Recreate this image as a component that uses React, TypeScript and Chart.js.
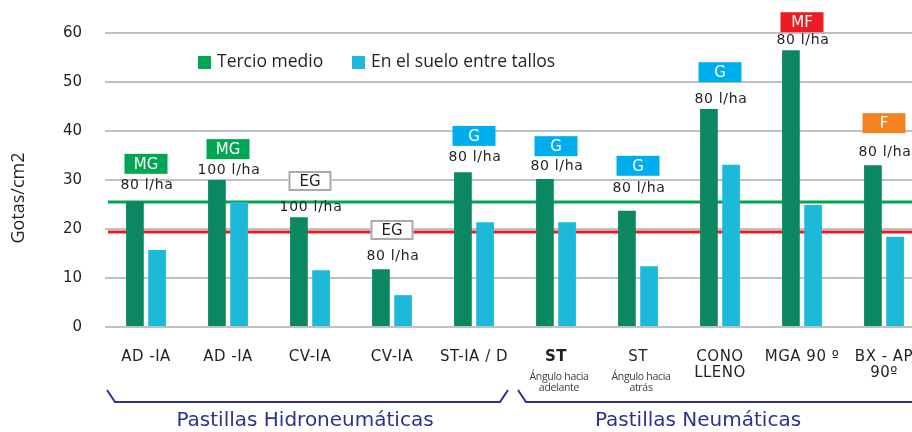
import React, { useEffect, useRef } from "react";
import { Chart, registerables } from "chart.js";

Chart.register(...registerables);

const categories = ["AD -IA", "AD -IA", "CV-IA", "CV-IA", "ST-IA / D", "ST", "ST", "CONO\nLLENO", "MGA 90 º", "BX - AP\n90º"];
const subLabels = ["", "", "", "", "", "Ángulo hacia\nadelante", "Ángulo hacia\natrás", "", "", ""];
const tercioMedio = [25.7, 30.0, 22.4, 11.8, 31.6, 30.2, 23.7, 44.5, 56.5, 33.0];
const sueloEntreTallos = [15.7, 25.5, 11.6, 6.5, 21.4, 21.4, 12.4, 33.1, 24.9, 18.4];
const badgeLabels = ["MG", "MG", "EG", "EG", "G", "G", "G", "G", "MF", "F"];
const badgeLevels = [33.3, 36.3, 29.8, 19.8, 39.0, 36.9, 32.9, 52.0, 62.2, 41.6];
const rateLabels = ["80 l/ha", "100 l/ha", "100 l/ha", "80 l/ha", "80 l/ha", "80 l/ha", "80 l/ha", "80 l/ha", "80 l/ha", "80 l/ha"];
const rateLevels = [29.0, 31.9, 24.5, 14.4, 34.7, 32.7, 28.2, 46.4, 58.5, 35.6];
const thresholdHigh = 25.5;
const thresholdLow = 19.4;
const yMin = 0;
const yMax = 60;
const yStep = 10;
const seriesNames = ["Tercio medio", "En el suelo entre tallos"];
const groupLabels = ["Pastillas Hidroneumáticas", "Pastillas Neumáticas"];
const groupFrom = [0, 5];
const groupTo = [4, 9];
const yTitle = "Gotas/cm2";

const badgeStyles: Record<string, { fill: string; stroke?: string; text: string }> = {
  MG: { fill: "#00a651", text: "#ffffff" },
  G: { fill: "#00aeef", text: "#ffffff" },
  EG: { fill: "#ffffff", stroke: "#a7a9ac", text: "#231f20" },
  MF: { fill: "#ed1c24", text: "#ffffff" },
  F: { fill: "#f58220", text: "#ffffff" },
};

const GOTHAM = '"DejaVu Sans", sans-serif';
const HUMAN = '"Open Sans", sans-serif';
const NAVY = "#2e3192";
const INK = "#231f20";

const overlay = {
  id: "overlay",
  beforeDatasetsDraw(chart: any) {
    const { ctx, chartArea, scales } = chart;
    const y = scales.y;
    ctx.save();
    ctx.lineWidth = 3;
    const lines: [number, string][] = [
      [thresholdHigh, "#00a651"],
      [thresholdLow, "#ed1c24"],
    ];
    lines.forEach(([v, c]) => {
      const py = y.getPixelForValue(v);
      ctx.strokeStyle = c;
      ctx.beginPath();
      ctx.moveTo(chartArea.left + 3, py);
      ctx.lineTo(chart.width, py);
      ctx.stroke();
    });
    ctx.restore();
  },
  afterDatasetsDraw(chart: any) {
    const { ctx, scales } = chart;
    const x = scales.x;
    const y = scales.y;
    const half = (x.getPixelForValue(1) - x.getPixelForValue(0)) / 2;
    ctx.save();

    // badges and rates
    categories.forEach((_, i) => {
      const cx = x.getPixelForValue(i);
      const b = badgeLabels[i];
      const st = badgeStyles[b];
      const by = y.getPixelForValue(badgeLevels[i]);
      const w = 43;
      const h = 20;
      ctx.fillStyle = st.fill;
      ctx.fillRect(cx - w / 2, by - h / 2, w, h);
      if (st.stroke) {
        ctx.strokeStyle = st.stroke;
        ctx.lineWidth = 2;
        ctx.strokeRect(cx - w / 2 + 1, by - h / 2 + 1, w - 2, h - 2);
      }
      ctx.fillStyle = st.text;
      ctx.font = `15px ${GOTHAM}`;
      ctx.textAlign = "center";
      ctx.textBaseline = "middle";
      (ctx as any).letterSpacing = "0px";
      ctx.fillText(b, cx, by + 1);

      const ry = y.getPixelForValue(rateLevels[i]);
      ctx.fillStyle = INK;
      ctx.font = `14px ${GOTHAM}`;
      (ctx as any).letterSpacing = "0.7px";
      ctx.fillText(rateLabels[i], cx + 1, ry);
    });

    // x labels
    categories.forEach((lab, i) => {
      const cx = x.getPixelForValue(i);
      const lines = lab.split("\n");
      ctx.fillStyle = INK;
      ctx.textAlign = "center";
      ctx.textBaseline = "middle";
      (ctx as any).letterSpacing = "0.5px";
      ctx.font = `${i === 5 ? "bold " : ""}15px ${GOTHAM}`;
      lines.forEach((ln, k) => ctx.fillText(ln, cx, 357 + k * 16));
      if (subLabels[i]) {
        ctx.fillStyle = "#3c3c3e";
        ctx.font = `10.5px ${HUMAN}`;
        (ctx as any).letterSpacing = "-0.3px";
        subLabels[i].split("\n").forEach((ln, k) => ctx.fillText(ln, cx + 3, 377 + k * 11.5));
      }
    });

    // brackets & group labels
    ctx.strokeStyle = NAVY;
    ctx.lineWidth = 2;
    (ctx as any).letterSpacing = "0px";
    const offsets = [-5, -22];
    groupLabels.forEach((g, gi) => {
      const xL = x.getPixelForValue(groupFrom[gi]) - half;
      const xR = x.getPixelForValue(groupTo[gi]) + half;
      ctx.beginPath();
      if (gi === 0) {
        ctx.moveTo(xL + 2, 390);
        ctx.lineTo(xL + 10, 402);
        ctx.lineTo(xR - 15, 402);
        ctx.lineTo(xR - 7, 390);
      } else {
        ctx.moveTo(xL + 3, 390);
        ctx.lineTo(xL + 11, 402);
        ctx.lineTo(xR + 20, 402);
      }
      ctx.stroke();
      ctx.fillStyle = NAVY;
      ctx.font = `20px ${GOTHAM}`;
      ctx.textAlign = "center";
      ctx.textBaseline = "middle";
      const cxm = (x.getPixelForValue(groupFrom[gi]) + x.getPixelForValue(groupTo[gi])) / 2 + offsets[gi];
      ctx.fillText(g, cxm, 421);
    });

    // legend
    const legendColors = ["#00a651", "#1cb9d9"];
    const legendX = [198, 352];
    seriesNames.forEach((n, k) => {
      ctx.fillStyle = legendColors[k];
      ctx.fillRect(legendX[k], 56, 13, 13);
      ctx.fillStyle = INK;
      ctx.font = `17.5px ${HUMAN}`;
      ctx.textAlign = "left";
      ctx.textBaseline = "middle";
      ctx.fillText(n, legendX[k] + 19, 62);
    });

    // y title
    ctx.save();
    ctx.translate(19, 198);
    ctx.rotate(-Math.PI / 2);
    ctx.fillStyle = INK;
    ctx.font = `18px ${HUMAN}`;
    ctx.textAlign = "center";
    ctx.textBaseline = "middle";
    ctx.fillText(yTitle, 0, 0);
    ctx.restore();

    ctx.restore();
  },
};

export default function App() {
  const ref = useRef<HTMLCanvasElement | null>(null);
  useEffect(() => {
    if (!ref.current) return;
    const chart = new Chart(ref.current, {
      type: "bar",
      data: {
        labels: categories.map((c) => c.replace("\n", " ")),
        datasets: [
          { label: seriesNames[0], data: tercioMedio, backgroundColor: "#0b8862", borderWidth: 0 },
          { label: seriesNames[1], data: sueloEntreTallos, backgroundColor: "#1cbad8", borderWidth: 0 },
        ],
      },
      options: {
        responsive: false,
        animation: false,
        events: [],
        layout: { padding: { top: 33, bottom: 105, left: 0, right: 5 } },
        datasets: { bar: { categoryPercentage: 0.54, barPercentage: 0.8 } },
        plugins: { legend: { display: false }, tooltip: { enabled: false } },
        scales: {
          x: { display: false, grid: { display: false } },
          y: {
            min: yMin,
            max: yMax,
            afterFit: (s: any) => {
              s.width = 105;
            },
            ticks: {
              stepSize: yStep,
              padding: 23,
              color: INK,
              font: { family: "DejaVu Sans", size: 15 },
            },
            border: { display: false },
            grid: { color: "#bfc0c3", lineWidth: 2, drawTicks: false },
          },
        },
      },
      plugins: [overlay],
    });
    return () => chart.destroy();
  }, []);
  return (
    <div style={{ position: "fixed", left: 0, top: 0, width: 912, height: 432, overflow: "hidden", background: "#fff" }}>
      <canvas ref={ref} width={930} height={432} style={{ width: 930, height: 432, display: "block" }} />
    </div>
  );
}
